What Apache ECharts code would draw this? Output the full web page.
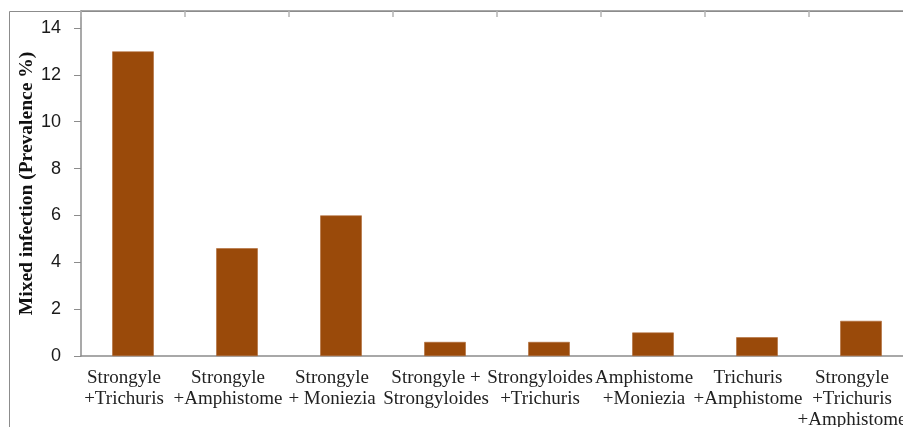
<!DOCTYPE html>
<html>
<head>
<meta charset="utf-8">
<script src="https://cdn.jsdelivr.net/npm/echarts@6/dist/echarts.min.js"></script>
<style>
  html, body { margin: 0; padding: 0; background: #ffffff; }
  #chart { width: 903px; height: 427px; }
</style>
</head>
<body>
<div id="chart"></div>
<script>
// Mixed infection combinations and their prevalence (%)
const categories = [
  'Strongyle\n+Trichuris',
  'Strongyle\n+Amphistome',
  'Strongyle\n+ Moniezia',
  'Strongyle +\nStrongyloides',
  'Strongyloides\n+Trichuris',
  'Amphistome\n+Moniezia',
  'Trichuris\n+Amphistome',
  'Strongyle\n+Trichuris\n+Amphistome'
];
const prevalence = [13, 4.6, 6, 0.6, 0.6, 1.0, 0.8, 1.5];
const yTicks = [0, 2, 4, 6, 8, 10, 12, 14];
const axisTitle = 'Mixed infection (Prevalence %)';

const chart = echarts.init(document.getElementById('chart'), null, { renderer: 'canvas' });

const axisGray = '#8c8c8c';
const serif = '"Liberation Serif", "Times New Roman", serif';
const sans = '"Liberation Sans", Arial, sans-serif';

chart.setOption({
  animation: false,
  backgroundColor: '#ffffff',
  graphic: [{
    // outer frame of the chart area
    type: 'rect',
    silent: true,
    z: -1,
    shape: { x: 9.5, y: 11.5, width: 1000, height: 1000 },
    style: { fill: 'none', stroke: axisGray, lineWidth: 1 }
  }],
  // plot area runs past the right edge of the canvas
  grid: {
    left: 81, width: 832, top: 11, height: 345,
    containLabel: false,
    outerBoundsMode: 'none'
  },
  xAxis: [{
    type: 'category',
    data: categories,
    position: 'bottom',
    axisLine: { show: true, lineStyle: { color: axisGray, width: 1.5 } },
    axisTick: { show: false },
    axisLabel: {
      interval: 0,
      margin: 12,
      color: '#222222',
      fontFamily: serif,
      fontSize: 19,
      lineHeight: 21,
      padding: [0, 18, 0, 0]
    },
    splitLine: { show: false }
  }, {
    type: 'category',
    data: categories,
    position: 'top',
    axisLine: { show: true, lineStyle: { color: axisGray, width: 1.5 } },
    axisTick: { show: true, inside: true, length: 6, lineStyle: { color: '#b4b4b4', width: 1.5 } },
    axisLabel: { show: false },
    splitLine: { show: false }
  }],
  yAxis: {
    type: 'value',
    min: 0,
    max: 14 * 345 / 328,
    interval: 2,
    name: axisTitle,
    nameLocation: 'middle',
    nameRotate: 90,
    nameGap: 44,
    nameMoveOverlap: false,
    nameTextStyle: {
      fontFamily: serif,
      fontWeight: 'bold',
      fontSize: 19.5,
      color: '#111111'
    },
    axisLine: { show: true, lineStyle: { color: axisGray, width: 1.5 } },
    axisTick: { show: true, length: 7, lineStyle: { color: axisGray, width: 1 } },
    axisLabel: {
      margin: 20,
      color: '#1a1a1a',
      fontFamily: sans,
      fontSize: 18,
      showMaxLabel: false,
      formatter: v => (yTicks.indexOf(v) >= 0 ? String(v) : '')
    },
    splitLine: { show: false }
  },
  series: [{
    type: 'bar',
    xAxisIndex: 0,
    data: prevalence,
    barWidth: '40%',
    itemStyle: { color: '#9a4a0a', borderColor: '#b06a35', borderWidth: 0.6 }
  }]
});
</script>
</body>
</html>
